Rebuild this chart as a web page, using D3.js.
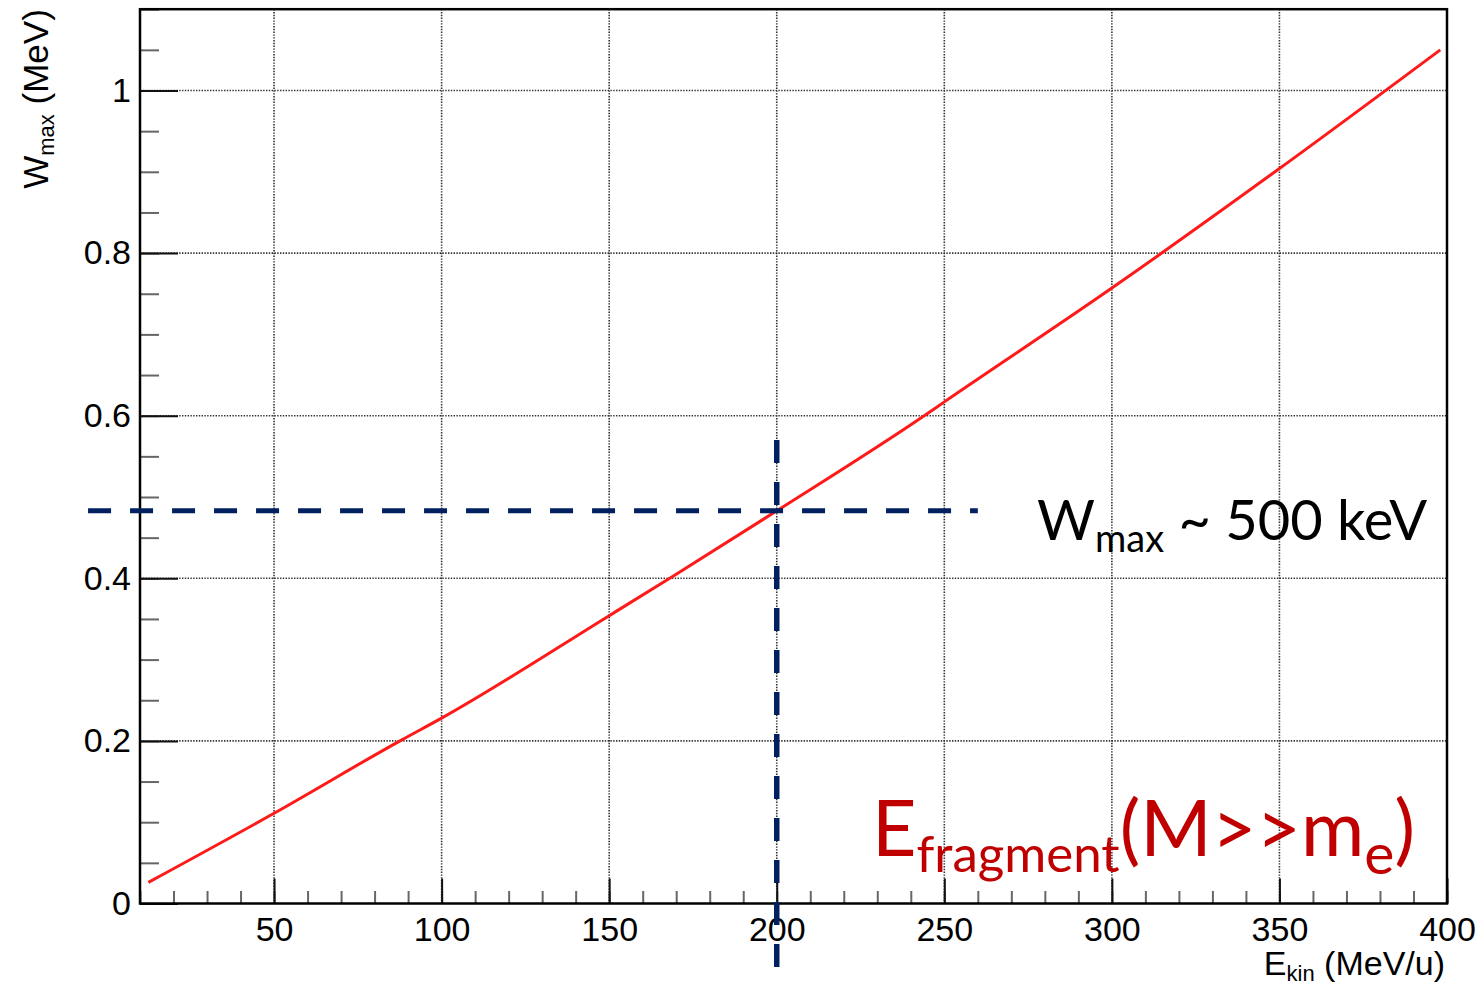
<!DOCTYPE html>
<html>
<head>
<meta charset="utf-8">
<script src="https://cdn.jsdelivr.net/npm/d3@7"></script>
<style>
  body { margin: 0; background: #fff; }
  svg { display: block; }
  .tick text { font-family: "Liberation Sans", Arial, sans-serif; font-size: 34px; fill: #000; }
</style>
</head>
<body>
<svg id="viz-svg" width="1481" height="986"></svg>
<script>
// curve: E_kin (MeV/u) -> W_max (MeV)
var energy = [12.5, 50, 88, 100, 150, 170, 200, 244, 250, 300, 350, 398]
  , wmax   = [0.026, 0.111, 0.201, 0.228, 0.354, 0.405, 0.483, 0.6, 0.617, 0.757, 0.904, 1.05]
  , xTicks = [50, 100, 150, 200, 250, 300, 350, 400]
  , yTicks = [0, 0.2, 0.4, 0.6, 0.8, 1]
  // guide lines in data units
  , guideE = 200
  , guideW = 0.483
  , guideESpan = [-5.5, 260]
  , guideWSpan = [-0.08, 0.57]

var svg = d3.select("#viz-svg")
  , padLeft = 140, padRight = 1447, padTop = 9.2, padBottom = 903.5

var x = d3.scaleLinear().domain([10, 400]).range([padLeft, padRight])
  , y = d3.scaleLinear().domain([0, 1.1]).range([padBottom, padTop])

// grid
var grid = svg.append("g").attr("id", "grid")
grid.selectAll(".vgrid")
  .data(xTicks.filter(function(d){ return d < 400 }))
  .enter().append("line")
    .attr("x1", function(d){ return x(d) }).attr("x2", function(d){ return x(d) })
    .attr("y1", padTop).attr("y2", padBottom)
grid.selectAll(".hgrid")
  .data(yTicks.filter(function(d){ return d > 0 }))
  .enter().append("line")
    .attr("x1", padLeft).attr("x2", padRight)
    .attr("y1", function(d){ return y(d) }).attr("y2", function(d){ return y(d) })
grid.selectAll("line")
  .attr("stroke", "#333")
  .attr("stroke-width", 1.6)
  .attr("stroke-dasharray", "1.4,1.4")

// minor ticks
svg.append("g")
  .attr("transform", "translate(0," + padBottom + ")")
  .call(d3.axisBottom(x).ticks(39).tickSize(-12.5).tickFormat(""))
  .call(function(g){ g.select(".domain").remove() })
  .selectAll("line").attr("stroke", "#666").attr("stroke-width", 2)
svg.append("g")
  .attr("transform", "translate(" + padLeft + ",0)")
  .call(d3.axisLeft(y).ticks(22).tickSize(-19).tickFormat(""))
  .call(function(g){ g.select(".domain").remove() })
  .selectAll("line").attr("stroke", "#666").attr("stroke-width", 2)

// major ticks with labels
var xAxis = svg.append("g")
  .attr("transform", "translate(0," + padBottom + ")")
  .call(d3.axisBottom(x).tickValues(xTicks).tickSize(-25).tickPadding(13).tickFormat(d3.format("d")))
xAxis.select(".domain").remove()
xAxis.selectAll("line").attr("stroke", "#111").attr("stroke-width", 2)

var yAxis = svg.append("g")
  .attr("transform", "translate(" + padLeft + ",0)")
  .call(d3.axisLeft(y).tickValues(yTicks).tickSize(-38).tickPadding(9).tickFormat(d3.format("~g")))
yAxis.select(".domain").remove()
yAxis.selectAll("line").attr("stroke", "#111").attr("stroke-width", 2)

// frame
svg.append("rect")
  .attr("x", padLeft).attr("y", padTop)
  .attr("width", padRight - padLeft).attr("height", padBottom - padTop)
  .attr("fill", "none").attr("stroke", "#000").attr("stroke-width", 2.5)

// curve
var line = d3.line()
  .x(function(d, i){ return x(energy[i]) })
  .y(function(d){ return y(d) })
  .curve(d3.curveMonotoneX)
svg.append("path")
  .datum(wmax)
  .attr("d", line)
  .attr("fill", "none")
  .attr("stroke", "#ff1a1a")
  .attr("stroke-width", 3)

// guide lines
svg.append("line")
  .attr("x1", x(guideESpan[0])).attr("x2", x(guideESpan[1]))
  .attr("y1", y(guideW)).attr("y2", y(guideW))
  .attr("stroke", "#002060").attr("stroke-width", 5)
  .attr("stroke-dasharray", "23,19")
svg.append("line")
  .attr("x1", x(guideE)).attr("x2", x(guideE))
  .attr("y1", y(guideWSpan[1])).attr("y2", y(guideWSpan[0]))
  .attr("stroke", "#002060").attr("stroke-width", 5.5)
  .attr("stroke-dasharray", "23,19")

// axis titles
var yTitle = svg.append("text")
  .attr("transform", "translate(48," + padTop + ") rotate(-90)")
  .attr("text-anchor", "end")
  .style("font-family", "'Liberation Sans', Arial, sans-serif")
  .style("font-size", "35px")
yTitle.append("tspan").text("W")
yTitle.append("tspan").attr("dy", 6).style("font-size", "22px").text("max")
yTitle.append("tspan").attr("dy", -6).text(" (MeV)")

var xTitle = svg.append("text")
  .attr("x", 1445).attr("y", 975)
  .attr("text-anchor", "end")
  .style("font-family", "'Liberation Sans', Arial, sans-serif")
  .style("font-size", "34px")
xTitle.append("tspan").text("E")
xTitle.append("tspan").attr("dy", 6).style("font-size", "22px").text("kin")
xTitle.append("tspan").attr("dy", -6).text(" (MeV/u)")

// annotations
var wText = svg.append("text")
  .attr("x", 1037).attr("y", 540)
  .style("font-family", "Lato, 'Open Sans', sans-serif")
  .style("font-size", "56px")
  .attr("fill", "#000")
wText.append("tspan").text("W")
wText.append("tspan").attr("dy", 12).style("font-size", "38px").text("max")
wText.append("tspan").attr("dy", -12).text(" ~ 500 keV")

var eText = svg.append("text")
  .attr("x", 872).attr("y", 856)
  .style("font-family", "Lato, 'Open Sans', sans-serif")
  .style("font-size", "77px")
  .attr("fill", "#c00000")
eText.append("tspan").text("E")
eText.append("tspan").attr("dy", 16).style("font-size", "51px").text("fragment")
eText.append("tspan").attr("dy", -16).text("(M>>m")
eText.append("tspan").attr("dy", 18).style("font-size", "57px").text("e")
eText.append("tspan").attr("dy", -18).text(")")
</script>
</body>
</html>
